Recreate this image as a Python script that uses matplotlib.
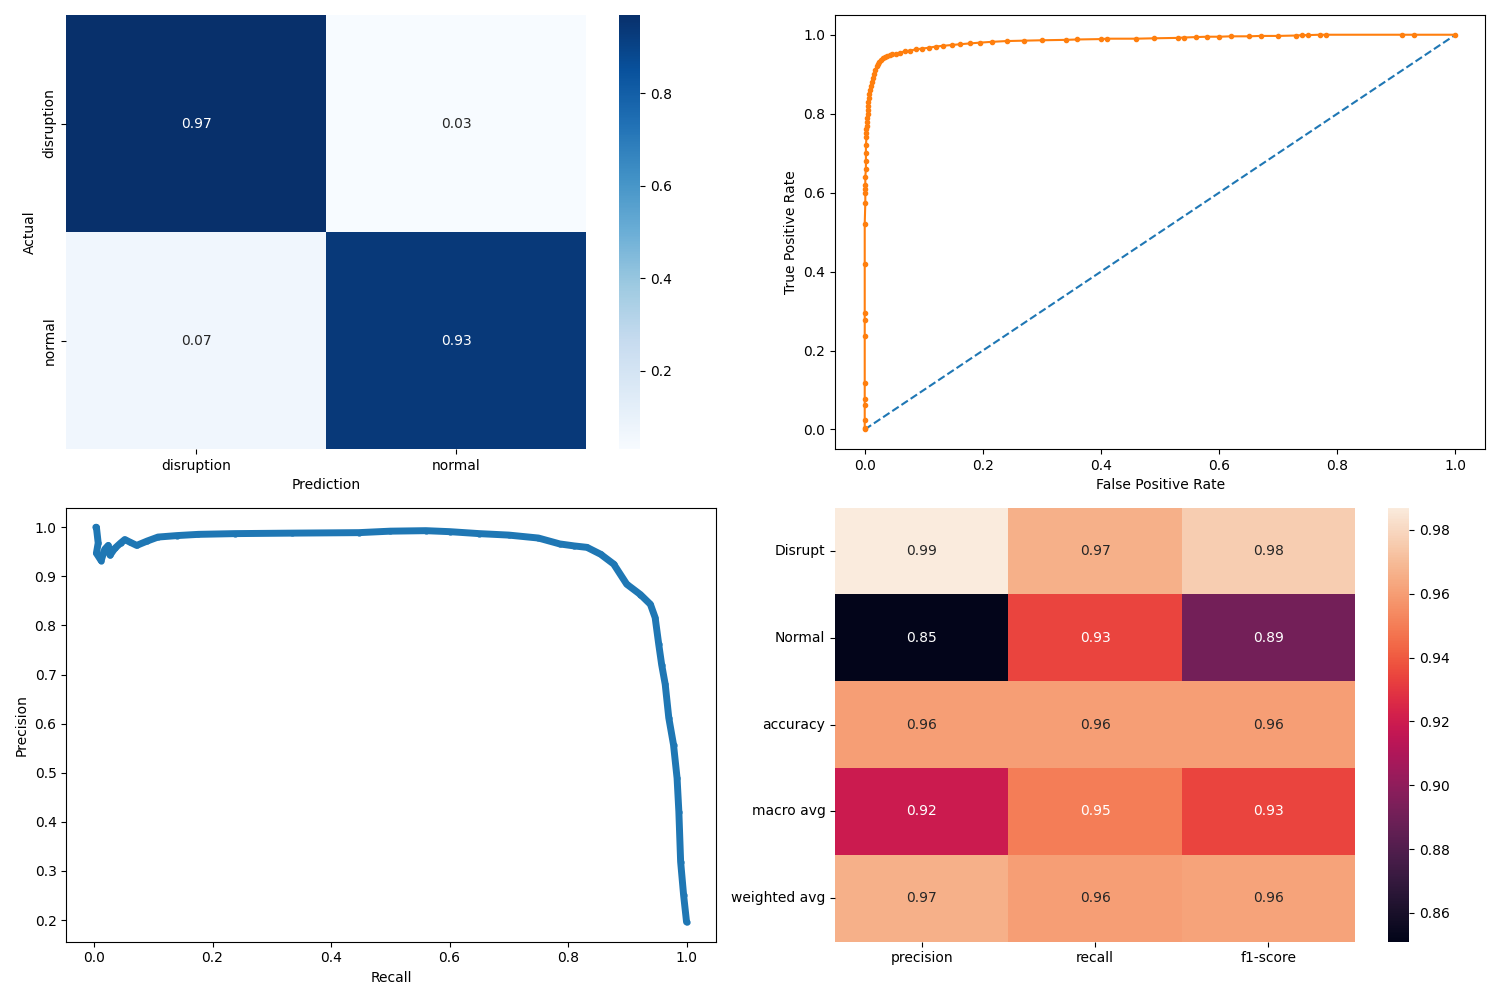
import matplotlib
matplotlib.use("Agg")
import matplotlib.pyplot as plt
import numpy as np
import pandas as pd
import seaborn as sns

# Confusion matrix (row-normalised)
cm_labels = ["disruption", "normal"]
cm_values = [[0.969, 0.031],
             [0.067, 0.933]]

# ROC curve
roc_fpr = [0.0, 0.0, 0.0, 0.0, 0.0, 0.0, 0.0, 0.0, 0.0, 0.0, 0.0, 0.001, 0.001, 0.001,
           0.001, 0.001, 0.002, 0.002, 0.002, 0.002, 0.003, 0.003, 0.003, 0.004, 0.004,
           0.004, 0.005, 0.005, 0.006, 0.006, 0.007, 0.008, 0.009, 0.010, 0.012, 0.014,
           0.016, 0.018, 0.020, 0.022, 0.025, 0.028, 0.031, 0.034, 0.038, 0.042, 0.047,
           0.053, 0.060, 0.068, 0.077, 0.087, 0.097, 0.108, 0.120, 0.133, 0.147, 0.162,
           0.178, 0.195, 0.215, 0.240, 0.270, 0.300, 0.340, 0.360, 0.400, 0.410, 0.460,
           0.490, 0.530, 0.540, 0.560, 0.580, 0.600, 0.620, 0.650, 0.670, 0.700, 0.730,
           0.740, 0.750, 0.770, 0.780, 0.910, 0.930, 1.0]
roc_tpr = [0.0, 0.005, 0.025, 0.063, 0.076, 0.119, 0.236, 0.278, 0.296, 0.42, 0.521,
           0.575, 0.598, 0.61, 0.62, 0.64, 0.66, 0.68, 0.70, 0.72, 0.74, 0.75, 0.76, 0.77,
           0.78, 0.79, 0.80, 0.81, 0.82, 0.83, 0.84, 0.85, 0.86, 0.87, 0.88, 0.89, 0.90,
           0.91, 0.92, 0.925, 0.93, 0.935, 0.94, 0.943, 0.946, 0.948, 0.950, 0.952, 0.955,
           0.958, 0.960, 0.963, 0.965, 0.967, 0.970, 0.972, 0.974, 0.976, 0.978, 0.980,
           0.982, 0.984, 0.985, 0.986, 0.987, 0.988, 0.989, 0.990, 0.990, 0.991, 0.992,
           0.993, 0.994, 0.995, 0.995, 0.996, 0.996, 0.997, 0.997, 0.998, 0.999, 0.999,
           1.0, 1.0, 1.0, 1.0, 1.0]

# Precision-recall curve
pr_recall = [0.003, 0.004, 0.007, 0.004, 0.012, 0.018, 0.024, 0.027, 0.035, 0.045,
             0.052, 0.060, 0.072, 0.090, 0.108, 0.140, 0.176, 0.238, 0.334, 0.447,
             0.500, 0.560, 0.600, 0.650, 0.700, 0.750, 0.786, 0.810, 0.832, 0.855,
             0.877, 0.899, 0.922, 0.939, 0.947, 0.953, 0.958, 0.964, 0.970, 0.978,
             0.984, 0.987, 0.990, 0.995, 1.0]
pr_precision = [1.0, 1.0, 0.968, 0.947, 0.932, 0.955, 0.963, 0.943, 0.957, 0.968,
                0.975, 0.970, 0.963, 0.972, 0.980, 0.983, 0.9855, 0.987, 0.988, 0.989,
                0.992, 0.993, 0.991, 0.987, 0.984, 0.978, 0.966, 0.962, 0.959, 0.945,
                0.925, 0.884, 0.863, 0.843, 0.816, 0.762, 0.720, 0.680, 0.612, 0.557,
                0.489, 0.421, 0.319, 0.251, 0.196]

# Classification report
report_rows = ["Disrupt", "Normal", "accuracy", "macro avg", "weighted avg"]
report_cols = ["precision", "recall", "f1-score"]
report_precision = [0.987, 0.851, 0.960, 0.919, 0.966]
report_recall = [0.966, 0.934, 0.960, 0.950, 0.960]
report_f1 = [0.976, 0.891, 0.960, 0.934, 0.962]

fig, axes = plt.subplots(2, 2, figsize=(15, 10), dpi=100)

# Top-left: confusion matrix
ax = axes[0, 0]
sns.heatmap(np.array(cm_values), annot=True, fmt=".2f", cmap="Blues",
            xticklabels=cm_labels, yticklabels=cm_labels, ax=ax)
ax.set_yticklabels(cm_labels, rotation=90, va="center")
ax.set_xlabel("Prediction")
ax.set_ylabel("Actual")

# Top-right: ROC
ax = axes[0, 1]
ax.plot([0, 1], [0, 1], linestyle="--")
ax.plot(roc_fpr, roc_tpr, marker=".")
ax.set_xlabel("False Positive Rate")
ax.set_ylabel("True Positive Rate")

# Bottom-left: PR
ax = axes[1, 0]
ax.plot(pr_recall, pr_precision, marker=".", linewidth=5, markersize=7,
        solid_joinstyle="round", solid_capstyle="round", color="C0")
ax.set_xlabel("Recall")
ax.set_ylabel("Precision")

# Bottom-right: classification report
ax = axes[1, 1]
report_df = pd.DataFrame({"precision": report_precision,
                          "recall": report_recall,
                          "f1-score": report_f1}, index=report_rows)[report_cols]
sns.heatmap(report_df, annot=True, fmt=".2f", ax=ax)
ax.set_yticklabels(report_rows, rotation=0, va="center")

fig.tight_layout()
fig.savefig("out.png", dpi=100)
